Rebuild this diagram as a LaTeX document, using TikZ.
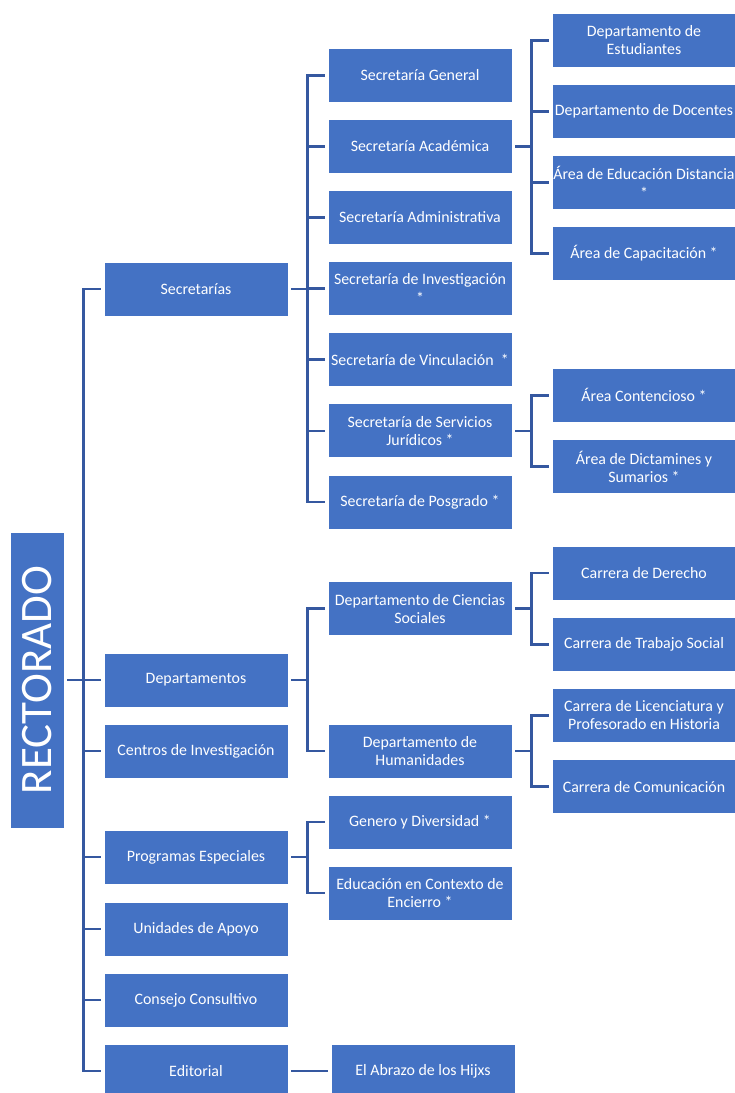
\documentclass[tikz,border=0pt]{standalone}
\usepackage{fontspec}
\setmainfont{Carlito}
\definecolor{boxblue}{HTML}{4472C4}
\definecolor{linkblue}{HTML}{3558A0}
\tikzset{
  orgbox/.style={fill=boxblue, draw=white, line width=0.8pt, text=white,
    minimum width=184pt, minimum height=54pt, inner sep=0pt, align=center,
    font=\fontsize{15.9}{18.3}\selectfont},
  rectbox/.style={fill=boxblue, draw=white, line width=0.8pt, text=white,
    minimum width=54pt, minimum height=296pt, inner sep=0pt,
    font=\fontsize{45}{54}\selectfont},
  link/.style={draw=linkblue, line width=2.6pt, shorten >=2.6pt, shorten <=2.6pt},
}
\begin{document}
\begin{tikzpicture}[x=1pt,y=-1pt]
\useasboundingbox (0,0) rectangle (735,1093);
\clip (0,0) rectangle (735,1093);
% RECTORADO
\node[rectbox] (rect) at (37,680) {\rotatebox{90}{RECTORADO}};
% level 1
\node[orgbox] (sec) at (196,289) {Secretarías};
\node[orgbox] (dep) at (196,680) {Departamentos};
\node[orgbox] (cen) at (196,751) {Centros de Investigación};
\node[orgbox] (pro) at (196,857) {Programas Especiales};
\node[orgbox] (uni) at (196,929) {Unidades de Apoyo};
\node[orgbox] (con) at (196,1000) {Consejo Consultivo};
\node[orgbox] (edi) at (196,1071) {Editorial};
% level 2
\node[orgbox] (sg) at (420,75.3) {Secretaría General};
\node[orgbox] (sa) at (420,146.4) {Secretaría Académica};
\node[orgbox] (sad) at (420,217.5) {Secretaría Administrativa};
\node[orgbox] (si) at (420,288.6) {Secretaría de Investigación\\*};
\node[orgbox] (sv) at (420,359.7) {Secretaría de Vinculación~ *};
\node[orgbox] (sj) at (420,430.8) {Secretaría de Servicios\\Jurídicos *};
\node[orgbox] (sp) at (420,501.9) {Secretaría de Posgrado *};
\node[orgbox] (dcs) at (420,608.7) {Departamento de Ciencias\\Sociales};
\node[orgbox] (dh) at (420,751) {Departamento de\\Humanidades};
\node[orgbox] (gd) at (420,822) {Genero y Diversidad *};
\node[orgbox] (ec) at (420,893) {Educación en Contexto de\\Encierro *};
\node[orgbox] (abr) at (423,1071) {El Abrazo de los Hijxs};
% level 3
\node[orgbox] (de) at (644,40.3) {Departamento de\\Estudiantes};
\node[orgbox] (dd) at (644,111.2) {Departamento de Docentes};
\node[orgbox] (ead) at (644,182.3) {Área de Educación Distancia\\*};
\node[orgbox] (ac) at (644,253.5) {Área de Capacitación *};
\node[orgbox] (acont) at (644,395.3) {Área Contencioso *};
\node[orgbox] (adic) at (644,466.7) {Área de Dictamines y\\Sumarios *};
\node[orgbox] (cd) at (644,573) {Carrera de Derecho};
\node[orgbox] (cts) at (644,644.3) {Carrera de Trabajo Social};
\node[orgbox] (cl) at (644,715.3) {Carrera de Licenciatura y\\Profesorado en Historia};
\node[orgbox] (cc) at (644,786.7) {Carrera de Comunicación};
% bus coordinates
\coordinate (trunk) at (83.5,680);
\coordinate (bsec) at (307.5,289);
\coordinate (bdep) at (307.5,680);
\coordinate (bpro) at (307.5,857);
\coordinate (bsa) at (531.5,146.4);
\coordinate (bsj) at (531.5,430.8);
\coordinate (bdcs) at (531.5,608.7);
\coordinate (bdh) at (531.5,751);
% trunk
\draw[link] (rect.east) -- (dep.west);
\foreach \n in {sec,cen,pro,uni,con,edi} \draw[link, shorten <=0pt] (trunk) |- (\n.west);
% secretarias
\draw[link, shorten >=0pt] (sec.east) -- (bsec);
\foreach \n in {sg,sa,sad,si,sv,sj,sp} \draw[link, shorten <=0pt] (bsec) |- (\n.west);
% departamentos
\draw[link, shorten >=0pt] (dep.east) -- (bdep);
\foreach \n in {dcs,dh} \draw[link, shorten <=0pt] (bdep) |- (\n.west);
% programas
\draw[link, shorten >=0pt] (pro.east) -- (bpro);
\foreach \n in {gd,ec} \draw[link, shorten <=0pt] (bpro) |- (\n.west);
% editorial
\draw[link] (edi.east) -- (abr.west);
% level 3
\draw[link, shorten >=0pt] (sa.east) -- (bsa);
\foreach \n in {de,dd,ead,ac} \draw[link, shorten <=0pt] (bsa) |- (\n.west);
\draw[link, shorten >=0pt] (sj.east) -- (bsj);
\foreach \n in {acont,adic} \draw[link, shorten <=0pt] (bsj) |- (\n.west);
\draw[link, shorten >=0pt] (dcs.east) -- (bdcs);
\foreach \n in {cd,cts} \draw[link, shorten <=0pt] (bdcs) |- (\n.west);
\draw[link, shorten >=0pt] (dh.east) -- (bdh);
\foreach \n in {cl,cc} \draw[link, shorten <=0pt] (bdh) |- (\n.west);
\end{tikzpicture}
\end{document}
